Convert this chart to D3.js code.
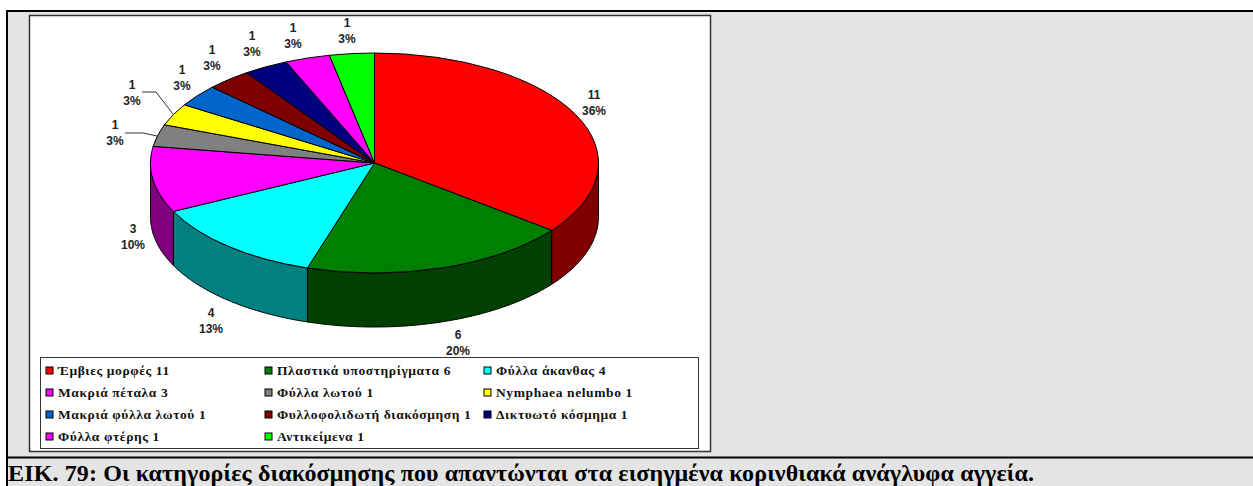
<!DOCTYPE html>
<html>
<head>
<meta charset="utf-8">
<script src="https://cdn.jsdelivr.net/npm/d3@7"></script>
<style>
  html, body { margin: 0; padding: 0; background: #fff; }
  svg { display: block; }
</style>
</head>
<body>
<script>
const categories = ['Έμβιες μορφές', 'Πλαστικά υποστηρίγματα', 'Φύλλα άκανθας', 'Μακριά πέταλα', 'Φύλλα λωτού',
  'Nymphaea nelumbo', 'Μακριά φύλλα λωτού', 'Φυλλοφολιδωτή διακόσμηση', 'Δικτυωτό κόσμημα', 'Φύλλα φτέρης', 'Αντικείμενα'];
const values = [11, 6, 4, 3, 1, 1, 1, 1, 1, 1, 1];
const percents = ['36%', '20%', '13%', '10%', '3%', '3%', '3%', '3%', '3%', '3%', '3%'];
const colors = ['#ff0000', '#008000', '#00ffff', '#ff00ff', '#808080', '#ffff00', '#0066cc', '#800000', '#000080', '#ff00ff', '#00ff00'];
const sideColors = ['#800000', '#004000', '#008080', '#800080'];
const caption = 'ΕΙΚ. 79: Οι κατηγορίες διακόσμησης που απαντώνται στα εισηγμένα κορινθιακά ανάγλυφα αγγεία.';

const width = 1253, height = 486;
const cx = 374.5, cy = 163, rx = 224, ry = 110, depth = 54;

// label anchor, middle of the two text lines
const labelPos = [[594, 102], [458, 342], [211, 320], [133, 236], [115, 132], [132, 92], [182, 77], [212, 57], [252, 43], [293, 35], [347, 30]];
const leaders = [[[125, 133], [143, 133], [157, 136]], [[142, 92], [156, 92], [173, 114]]];

const svg = d3.select('body').append('svg').attr('width', width).attr('height', height);
svg.append('rect').attr('width', width).attr('height', height).attr('fill', '#fff');

// outer panel
svg.append('rect').attr('x', 7).attr('y', 11).attr('width', 1246).attr('height', 475).attr('fill', '#e4e4e4');
svg.append('path').attr('d', 'M1253,11H7V486M7,457.5H1253').attr('fill', 'none').attr('stroke', '#000').attr('stroke-width', 2);

// chart box
svg.append('rect').attr('x', 29.5).attr('y', 15.5).attr('width', 681).attr('height', 436)
  .attr('fill', '#fff').attr('stroke', '#333').attr('stroke-width', 1.5);

const pie = d3.pie().sort(null).value(d => d)(values);
const px = a => cx + rx * Math.sin(a);
const py = a => cy - ry * Math.cos(a);

// side wall of the visible (front) part of a slice
const sides = pie.map((d, i) => {
  const a0 = Math.max(d.startAngle, Math.PI / 2), a1 = Math.min(d.endAngle, Math.PI * 1.5);
  return {i, a0, a1};
}).filter(d => d.a1 > d.a0);

const wall = d => {
  const angles = d3.range(d.a0, d.a1, 0.01).concat(d.a1);
  const p = d3.path();
  angles.forEach((a, k) => k ? p.lineTo(px(a), py(a)) : p.moveTo(px(a), py(a)));
  angles.reverse().forEach(a => p.lineTo(px(a), py(a) + depth));
  p.closePath();
  return p.toString();
};

svg.append('g').selectAll('path').data(sides).enter().append('path')
  .attr('d', wall)
  .attr('fill', d => sideColors[d.i])
  .attr('stroke', '#000').attr('stroke-width', 1);

// top face, circular arcs squashed to the ellipse
const arc = d3.arc().innerRadius(0).outerRadius(rx);
svg.append('g').attr('transform', `translate(${cx},${cy}) scale(1,${ry / rx})`)
  .selectAll('path').data(pie).enter().append('path')
  .attr('d', arc)
  .attr('fill', (d, i) => colors[i])
  .attr('stroke', '#000').attr('stroke-width', 1)
  .attr('vector-effect', 'non-scaling-stroke');

// leader lines
const line = d3.line();
svg.append('g').selectAll('path').data(leaders).enter().append('path')
  .attr('d', line).attr('fill', 'none').attr('stroke', '#333').attr('stroke-width', 1);

// data labels
const labels = svg.append('g').attr('font-family', '"Liberation Sans", Arial, sans-serif')
  .attr('font-weight', 'bold').attr('font-size', 12).attr('fill', '#222').attr('text-anchor', 'middle');
labelPos.forEach((p, i) => {
  labels.append('text').attr('x', p[0]).attr('y', p[1] - 3).text(values[i]);
  labels.append('text').attr('x', p[0]).attr('y', p[1] + 13).text(percents[i]);
});

// legend
const legend = svg.append('g');
legend.append('rect').attr('x', 40.5).attr('y', 357.5).attr('width', 658).attr('height', 91)
  .attr('fill', '#fff').attr('stroke', '#333').attr('stroke-width', 1);
const legendX = d3.scaleOrdinal().domain([0, 1, 2]).range([46, 265, 484]);
const legendY = d3.scalePoint().domain([0, 1, 2, 3]).range([371, 437]);
categories.forEach((c, i) => {
  const col = i % 3, row = Math.floor(i / 3);
  const g = legend.append('g').attr('transform', `translate(${legendX(col)},${legendY(row)})`);
  g.append('rect').attr('x', 0).attr('y', -4).attr('width', 7).attr('height', 7)
    .attr('fill', colors[i]).attr('stroke', '#000').attr('stroke-width', 1);
  g.append('text').attr('x', 12).attr('y', 4)
    .attr('font-family', '"Liberation Serif", serif').attr('font-weight', 'bold').attr('font-size', 13.5)
    .attr('letter-spacing', 0.6).attr('fill', '#111').text(c + ' ' + values[i]);
});

// caption
svg.append('text').attr('x', 8).attr('y', 481)
  .attr('font-family', '"Liberation Serif", "Times New Roman", serif').attr('font-weight', 'bold')
  .attr('font-size', 24).attr('letter-spacing', 0.14).attr('fill', '#000').text(caption);
</script>
</body>
</html>
